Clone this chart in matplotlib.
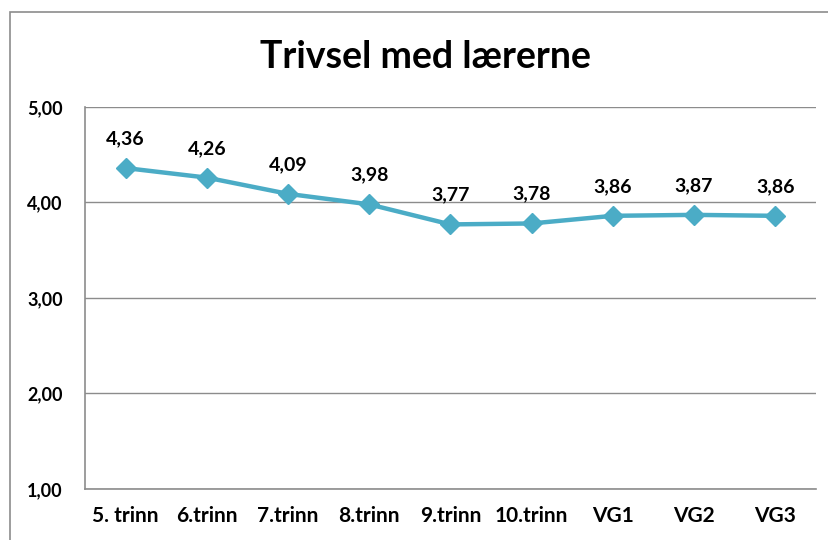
import matplotlib.pyplot as plt
from matplotlib.patches import Rectangle

categories = ['5. trinn', '6.trinn', '7.trinn', '8.trinn', '9.trinn',
              '10.trinn', 'VG1', 'VG2', 'VG3']
values = [4.36, 4.26, 4.09, 3.98, 3.77, 3.78, 3.86, 3.87, 3.86]
yticks = [1, 2, 3, 4, 5]

plt.rcParams['font.family'] = ['Lato', 'DejaVu Sans']
plt.rcParams['font.weight'] = 'bold'

fig = plt.figure(figsize=(8.29, 5.4), dpi=100)
ax = fig.add_axes([0.1025, 0.0944, 0.8815, 0.7076])

# chart border
fig.patches.append(Rectangle((0.012, -0.05), 1.1, 1.028, transform=fig.transFigure,
                             fill=False, edgecolor='#8c8c8c', linewidth=1.2))

x = list(range(len(categories)))
ax.plot(x, values, color='#4bacc6', linewidth=3.2, marker='D', markersize=10,
        zorder=3)
for xi, v in zip(x, values):
    ax.annotate(f'{v:.2f}'.replace('.', ','), (xi, v), xytext=(0, 15),
                textcoords='offset points', ha='center', va='bottom',
                fontsize=14, fontweight='bold')

ax.set_xlim(-0.5, len(categories) - 0.5)
ax.set_ylim(1, 5)
ax.set_yticks(yticks)
ax.set_yticklabels([f'{t:.2f}'.replace('.', ',') for t in yticks])
ax.set_xticks(x)
ax.set_xticklabels(categories)
ax.tick_params(axis='x', length=0, labelsize=15, pad=12)
ax.tick_params(axis='y', length=0, labelsize=13, pad=16)
for lbl in ax.get_xticklabels() + ax.get_yticklabels():
    lbl.set_fontweight('bold')

ax.grid(axis='y', color='#8c8c8c', linewidth=1)
ax.set_axisbelow(True)
for s in ['top', 'right']:
    ax.spines[s].set_visible(False)
for s in ['left', 'bottom']:
    ax.spines[s].set_color('#8c8c8c')
    ax.spines[s].set_linewidth(1.2)

fig.text(0.513, 0.895, 'Trivsel med lærerne', ha='center', va='center',
         fontsize=27, fontweight='bold')

fig.savefig('out.png', dpi=100)
